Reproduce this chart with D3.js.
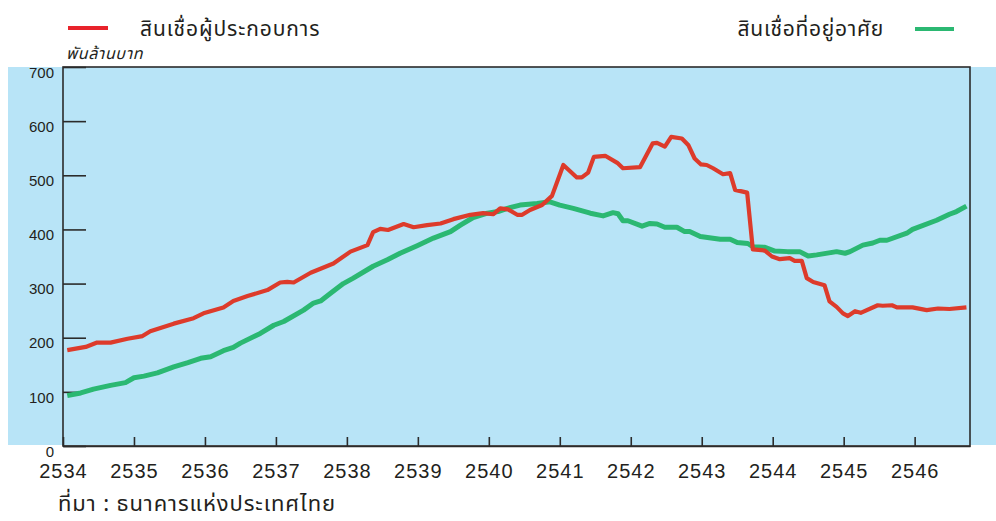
<!DOCTYPE html>
<html>
<head>
<meta charset="utf-8">
<script src="https://cdn.jsdelivr.net/npm/d3@7"></script>
<style>
  body { margin: 0; background: #fff; }
  svg { display: block; }
  text { font-family: "Noto Sans Thai", "Noto Sans", "Liberation Sans", sans-serif; fill: #231f20; }
</style>
</head>
<body>
<div id="chart"></div>
<script>
const width = 996
const height = 521

const red = "#dd3b2b"
const green = "#2bb872"
const sky = "#b8e4f7"
const ink = "#2b2b2b"

// years (B.E., decimal) and values (thousand million baht)
const bizYears = [2534.06, 2534.32, 2534.48, 2534.67, 2534.91, 2535.12, 2535.23, 2535.56, 2535.84, 2535.98,
  2536.26, 2536.40, 2536.60, 2536.88, 2537.06, 2537.16, 2537.25, 2537.49, 2537.81, 2538.05,
  2538.29, 2538.37, 2538.47, 2538.58, 2538.80, 2538.94, 2539.13, 2539.32, 2539.50, 2539.74,
  2539.92, 2540.06, 2540.16, 2540.27, 2540.40, 2540.47, 2540.58, 2540.75, 2540.89, 2541.05,
  2541.24, 2541.31, 2541.40, 2541.48, 2541.64, 2541.81, 2541.89, 2542.13, 2542.31, 2542.37,
  2542.48, 2542.57, 2542.72, 2542.81, 2542.90, 2542.99, 2543.07, 2543.16, 2543.30, 2543.40,
  2543.47, 2543.64, 2543.72, 2543.89, 2543.99, 2544.10, 2544.24, 2544.31, 2544.41, 2544.48,
  2544.57, 2544.73, 2544.80, 2544.90, 2544.99, 2545.06, 2545.16, 2545.24, 2545.48, 2545.55,
  2545.68, 2545.75, 2545.97, 2546.17, 2546.33, 2546.49, 2546.73]
const bizLoans = [177, 183, 191, 191, 198, 203, 212, 226, 236, 245,
  256, 268, 277, 288, 302, 303, 302, 320, 337, 359,
  371, 395, 401, 399, 410, 404, 408, 411, 419, 427,
  430, 428, 439, 437, 427, 427, 436, 445, 462, 519,
  496, 496, 505, 534, 536, 523, 513, 515, 559, 560,
  553, 571, 568, 556, 531, 520, 519, 513, 502, 504,
  473, 468, 363, 361, 350, 345, 347, 342, 342, 310,
  303, 297, 267, 257, 245, 240, 249, 246, 260, 259,
  260, 256, 256, 251, 254, 253, 256]

const homeYears = [2534.06, 2534.25, 2534.43, 2534.67, 2534.88, 2535.00, 2535.14, 2535.33, 2535.56, 2535.76,
  2535.94, 2536.08, 2536.26, 2536.40, 2536.50, 2536.78, 2536.97, 2537.11, 2537.39, 2537.53,
  2537.63, 2537.77, 2537.95, 2538.09, 2538.37, 2538.57, 2538.75, 2538.99, 2539.22, 2539.46,
  2539.60, 2539.78, 2539.98, 2540.13, 2540.26, 2540.44, 2540.68, 2540.86, 2541.00, 2541.19,
  2541.43, 2541.61, 2541.75, 2541.82, 2541.89, 2541.96, 2542.16, 2542.27, 2542.37, 2542.48,
  2542.65, 2542.76, 2542.83, 2542.98, 2543.26, 2543.40, 2543.50, 2543.65, 2543.72, 2543.89,
  2544.03, 2544.21, 2544.38, 2544.50, 2544.62, 2544.90, 2545.02, 2545.09, 2545.27, 2545.41,
  2545.51, 2545.61, 2545.89, 2545.97, 2546.31, 2546.49, 2546.59, 2546.73]
const homeLoans = [93, 98, 105, 112, 117, 126, 129, 135, 146, 154,
  162, 165, 176, 182, 190, 208, 223, 230, 251, 264,
  268, 282, 300, 310, 332, 344, 356, 370, 384, 396,
  408, 422, 430, 433, 439, 445, 448, 451, 445, 439,
  430, 425, 431, 429, 416, 416, 406, 411, 410, 404,
  404, 396, 396, 387, 382, 382, 376, 374, 368, 367,
  360, 359, 359, 351, 353, 359, 356, 359, 371, 375,
  380, 380, 393, 400, 417, 428, 433, 443]

const yearTicks = d3.range(2534, 2547)
const valueTicks = [0, 100, 200, 300, 400, 500, 600, 700]

const bizLabel = "สินเชื่อผู้ประกอบการ"
const homeLabel = "สินเชื่อที่อยู่อาศัย"
const unitLabel = "พันล้านบาท"
const sourceLabel = "ที่มา : ธนาคารแห่งประเทศไทย"

const svg = d3.select("#chart")
  .append("svg")
  .attr("width", width)
  .attr("height", height)

const x = d3.scaleLinear().domain([2534, 2546.78]).range([63, 970])
const y = d3.scaleLinear().domain([0, 700]).range([446, 67])

// sky background panel
svg.append("rect")
  .attr("x", 8).attr("y", y(700))
  .attr("width", width - 8).attr("height", y(0) - y(700) - 1)
  .attr("fill", sky)

// frame
svg.append("rect")
  .attr("x", x.range()[0]).attr("y", y(700))
  .attr("width", x.range()[1] - x.range()[0])
  .attr("height", y(0) - y(700))
  .attr("fill", "none")
  .attr("stroke", ink)
  .attr("stroke-width", 1.6)

// y axis, ticks pointing inward
const yAxis = svg.append("g")
  .attr("transform", `translate(${x.range()[0]},0)`)
  .call(d3.axisLeft(y).tickValues(valueTicks).tickSize(-23).tickPadding(9))
yAxis.select(".domain").remove()
yAxis.selectAll("line").attr("stroke", ink).attr("stroke-width", 1.6)
yAxis.selectAll("text")
  .attr("dy", "0.68em")
  .style("font-size", "15px")
  .style("font-family", "'Liberation Sans', Arial, sans-serif")

// x axis, ticks pointing up
const xAxis = svg.append("g")
  .attr("transform", `translate(0,${y(0)})`)
  .call(d3.axisBottom(x).tickValues(yearTicks).tickFormat(d3.format("d"))
    .tickSize(-9).tickSizeOuter(0).tickPadding(18))
xAxis.select(".domain").attr("stroke", ink).attr("stroke-width", 1.6)
xAxis.selectAll("line").attr("stroke", ink).attr("stroke-width", 1.6)
xAxis.selectAll("text")
  .style("font-size", "20px")
  .style("letter-spacing", "1px")
  .style("font-family", "'Liberation Sans', Arial, sans-serif")

// lines
const line = d3.line()
  .x(d => x(d[0]))
  .y(d => y(d[1]))

svg.append("path")
  .datum(d3.zip(homeYears, homeLoans))
  .attr("d", line)
  .attr("fill", "none")
  .attr("stroke", green)
  .attr("stroke-width", 5)
  .attr("stroke-linejoin", "round")

svg.append("path")
  .datum(d3.zip(bizYears, bizLoans))
  .attr("d", line)
  .attr("fill", "none")
  .attr("stroke", red)
  .attr("stroke-width", 4.2)
  .attr("stroke-linejoin", "round")

// legend
svg.append("line")
  .attr("x1", 68).attr("x2", 108).attr("y1", 28).attr("y2", 28)
  .attr("stroke", "#e8232b").attr("stroke-width", 4)
svg.append("text")
  .attr("x", 140).attr("y", 36)
  .style("font-size", "21px")
  .style("letter-spacing", "0.9px")
  .text(bizLabel)

svg.append("line")
  .attr("x1", 915).attr("x2", 954).attr("y1", 29).attr("y2", 29)
  .attr("stroke", green).attr("stroke-width", 4)
svg.append("text")
  .attr("x", 884).attr("y", 36)
  .attr("text-anchor", "end")
  .style("font-size", "21px")
  .style("letter-spacing", "0.7px")
  .text(homeLabel)

svg.append("text")
  .attr("x", 66).attr("y", 59)
  .style("font-size", "16px")
  .style("font-style", "italic")
  .style("letter-spacing", "0.6px")
  .text(unitLabel)

svg.append("text")
  .attr("x", 58).attr("y", 511)
  .style("font-size", "22px")
  .style("letter-spacing", "0.9px")
  .text(sourceLabel)
</script>
</body>
</html>
